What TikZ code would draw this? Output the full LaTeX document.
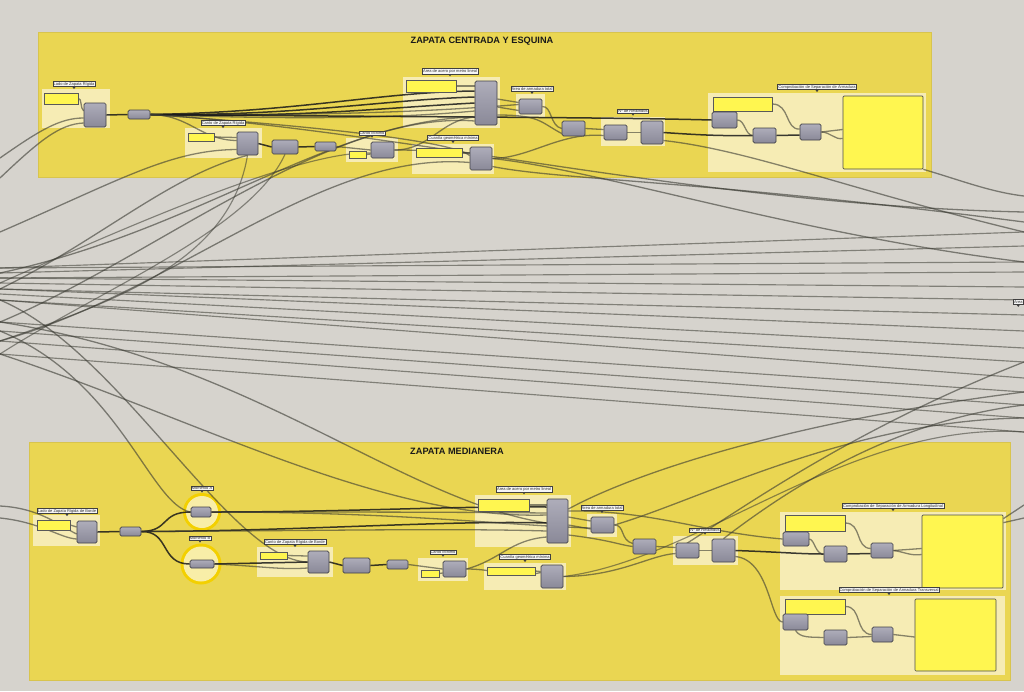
\documentclass[tikz,border=0pt]{standalone}
\usepackage{fontspec}
\setmainfont{Liberation Sans}
\usetikzlibrary{fit}
\definecolor{bgc}{HTML}{D6D3CD}
\definecolor{grpc}{HTML}{EAD652}
\definecolor{grpb}{HTML}{D8C44E}
\definecolor{panc}{HTML}{F6ECB4}
\definecolor{compt}{HTML}{AEADBA}
\definecolor{compb}{HTML}{8A8998}
\definecolor{compd}{HTML}{404048}
\definecolor{yelc}{HTML}{FFF650}
\definecolor{ringc}{HTML}{F3D000}
\definecolor{ringin}{HTML}{F8EEA8}
\definecolor{wirec}{HTML}{3A3A32}
\pgfdeclarelayer{back}
\pgfdeclarelayer{wirel}
\pgfsetlayers{back,wirel,main}
\tikzset{
  x=1pt,y=-1pt,
  grp/.style={fill=grpc,draw=grpb,line width=0.8pt,inner sep=0pt},
  pan/.style={fill=panc,inner sep=0pt},
  comp/.style={top color=compt,bottom color=compb,draw=compd,line width=0.7pt,rounded corners=1.5pt,inner sep=0pt},
  yel/.style={fill=yelc,draw=black!65,line width=0.6pt,inner sep=0pt},
  bigp/.style={fill=yelc,draw=black!70,line width=0.7pt,inner sep=0pt,rounded corners=1pt},
  lbl/.style={fill=white!93!gray,draw=black!75,line width=0.4pt,inner sep=0.8pt,font=\fontsize{4}{4.5}\selectfont,text=black!80},
  lblpt/.style={fill=black!75},
  gtitle/.style={font=\fontsize{9.2}{10}\selectfont\bfseries,text=black!90},
  wire/.style={draw=wirec,line width=1.3pt,opacity=0.6},
  dwire/.style={draw=black!90,line width=1.5pt,opacity=0.85},
  lwire/.style={draw=wirec,line width=1.15pt,opacity=0.55}
}
\newcommand\bx[6]{\node[#2,fit={(#3,#4) (#5,#6)}] (#1) {};}
\newcommand\lbl[4]{\node[lbl] (#1) at (#2,#3) {#4};
  \fill[lblpt] (#1.south) +(-1.6,0) -- +(1.6,0) -- +(0,2.2) -- cycle;}
\begin{document}
\begin{tikzpicture}
\useasboundingbox (0,0) rectangle (1024,691);

% ---------- edge coordinates ----------
\coordinate (L1) at (0,158); \coordinate (L2) at (0,178); \coordinate (L4) at (0,232);
\coordinate (Fa) at (0,268); \coordinate (Fb) at (0,273); \coordinate (Fc) at (0,278);
\coordinate (Fd) at (0,283); \coordinate (Fe) at (0,289); \coordinate (Ff) at (0,294);
\coordinate (Fg) at (0,300); \coordinate (Fh) at (0,322); \coordinate (Fi) at (0,331);
\coordinate (Fj) at (0,341); \coordinate (Fk) at (0,354);
\coordinate (L15) at (0,506); \coordinate (L16) at (0,518);
\coordinate (R1) at (1024,196); \coordinate (R2) at (1024,212); \coordinate (R3) at (1024,232);
\coordinate (R4) at (1024,246); \coordinate (R5) at (1024,262); \coordinate (R6) at (1024,272);
\coordinate (R7) at (1024,287); \coordinate (R8) at (1024,300); \coordinate (R9) at (1024,315);
\coordinate (R10) at (1024,331); \coordinate (R11) at (1024,348); \coordinate (R12) at (1024,362);
\coordinate (R13) at (1024,378); \coordinate (R14) at (1024,392); \coordinate (R15) at (1024,405);
\coordinate (R16) at (1024,418); \coordinate (R17) at (1024,432); \coordinate (R18) at (1024,505);
\coordinate (R19) at (1024,518); \coordinate (R20) at (1024,222);

\begin{pgfonlayer}{back}
\fill[bgc] (0,0) rectangle (1024,691);
% ---------- groups ----------
\bx{gtop}{grp}{38}{32}{931}{177}
\bx{gbot}{grp}{29}{442}{1010}{680}
% ---------- panels top ----------
\bx{tA}{pan}{42}{89}{110}{128}
\bx{tB}{pan}{185}{128}{262}{158}
\bx{tC}{pan}{346}{138}{398}{162}
\bx{tD}{pan}{403}{77}{500}{128}
\bx{tE}{pan}{516}{94}{545}{117}
\bx{tF}{pan}{412}{144}{494}{174}
\bx{tG}{pan}{601}{117}{665}{146}
\bx{tH}{pan}{708}{93}{926}{172}
% ---------- panels bottom ----------
\bx{bA}{pan}{33}{515}{100}{546}
\bx{bB}{pan}{257}{547}{333}{577}
\bx{bC}{pan}{418}{558}{468}{581}
\bx{bD}{pan}{475}{495}{571}{547}
\bx{bE}{pan}{587}{514}{617}{537}
\bx{bF}{pan}{484}{563}{566}{590}
\bx{bG}{pan}{673}{536}{738}{565}
\bx{bH}{pan}{780}{512}{1006}{590}
\bx{bI}{pan}{780}{596}{1005}{675}
\node[circle,fill=ringc,minimum size=38pt,inner sep=0pt] (mAr) at (202,512) {};
\node[circle,fill=ringin,minimum size=32pt,inner sep=0pt] (mAi) at (202,512) {};
\node[circle,fill=ringc,minimum size=41pt,inner sep=0pt] (mBr) at (201,564) {};
\node[circle,fill=ringin,minimum size=35pt,inner sep=0pt] (mBi) at (201,564) {};
\end{pgfonlayer}
\node[gtitle] (ttop) at (482,41) {ZAPATA CENTRADA Y ESQUINA};
\node[gtitle] (tbot) at (457,451) {ZAPATA MEDIANERA};

% ---------- components ----------
\bx{tAy}{yel}{44}{93}{78}{104}
\bx{tAc}{comp}{84}{103}{106}{127}
\bx{t1}{comp}{128}{110}{150}{119}
\bx{tBy}{yel}{188}{133}{214}{141}
\bx{tBc}{comp}{237}{132}{258}{155}
\bx{t2}{comp}{272}{140}{298}{154}
\bx{t3}{comp}{315}{142}{336}{151}
\bx{tCy}{yel}{349}{151}{366}{158}
\bx{tCc}{comp}{371}{142}{394}{158}
\bx{tDy}{yel}{406}{80}{456}{92}
\bx{tDc}{comp}{475}{81}{497}{125}
\bx{tEc}{comp}{519}{99}{542}{114}
\bx{tFy}{yel}{416}{148}{462}{157}
\bx{tFc}{comp}{470}{147}{492}{170}
\bx{t4}{comp}{562}{121}{585}{136}
\bx{tGa}{comp}{604}{125}{627}{140}
\bx{tGb}{comp}{641}{121}{663}{144}
\bx{tHy}{yel}{713}{97}{772}{111}
\bx{tHa}{comp}{712}{112}{737}{128}
\bx{tHb}{comp}{753}{128}{776}{143}
\bx{tHc}{comp}{800}{124}{821}{140}
\bx{tHp}{bigp}{843}{96}{923}{169}
\bx{bAy}{yel}{37}{520}{70}{530}
\bx{bAc}{comp}{77}{521}{97}{543}
\bx{b1}{comp}{120}{527}{141}{536}
\bx{bMA}{comp}{191}{507}{211}{517}
\bx{bMB}{comp}{190}{560}{214}{568}
\bx{bBy}{yel}{260}{552}{287}{559}
\bx{bBc}{comp}{308}{551}{329}{573}
\bx{b2}{comp}{343}{558}{370}{573}
\bx{b3}{comp}{387}{560}{408}{569}
\bx{bCy}{yel}{421}{570}{439}{577}
\bx{bCc}{comp}{443}{561}{466}{577}
\bx{bDy}{yel}{478}{499}{529}{511}
\bx{bDc}{comp}{547}{499}{568}{543}
\bx{bEc}{comp}{591}{517}{614}{533}
\bx{bFy}{yel}{487}{567}{535}{575}
\bx{bFc}{comp}{541}{565}{563}{588}
\bx{b4}{comp}{633}{539}{656}{554}
\bx{bGa}{comp}{676}{543}{699}{558}
\bx{bGb}{comp}{712}{539}{735}{562}
\bx{bHy}{yel}{785}{515}{845}{531}
\bx{bHa}{comp}{783}{532}{809}{546}
\bx{bHb}{comp}{824}{546}{847}{562}
\bx{bHc}{comp}{871}{543}{893}{558}
\bx{bHp}{bigp}{922}{515}{1003}{588}
\bx{bIy}{yel}{785}{599}{845}{614}
\bx{bIa}{comp}{783}{614}{808}{630}
\bx{bIb}{comp}{824}{630}{847}{645}
\bx{bIc}{comp}{872}{627}{893}{642}
\bx{bIp}{bigp}{915}{599}{996}{671}

% ---------- wires ----------
\begin{pgfonlayer}{wirel}
\foreach \a/\b in {Fa/R3,Fb/R4,Fc/R6,Fd/R8,Fe/R9,Ff/R11,Fg/R13,Fh/R14,Fi/R15,Fj/R16,Fk/R17,Fa/R5,Fc/R7,Fe/R10,Fg/R12}
  \draw[lwire] (\a) -- (\b);
\draw[wire] (L1) .. controls (40,130) and (60,118) .. ([yshift=-3pt]tAc.west);
\draw[wire] (L2) .. controls (40,140) and (60,124) .. ([yshift=-8pt]tAc.west);
\draw[wire] (tAy.east) .. controls (82,98) and (80,108) .. ([yshift=4pt]tAc.west);
\draw[dwire] (tAc.east) -- (t1.west);
\draw[dwire] (t1.east) .. controls (300,112) and (380,92) .. ([yshift=12pt]tDc.west);
\draw[dwire] (t1.east) .. controls (300,116) and (380,100) .. ([yshift=6pt]tDc.west);
\draw[dwire] (t1.east) .. controls (300,118) and (380,108) .. ([yshift=0pt]tDc.west);
\draw[wire] (t1.east) .. controls (300,120) and (400,118) .. ([yshift=-8pt]tDc.west);
\draw[wire] (t1.east) .. controls (350,116) and (450,110) .. ([yshift=2pt]tEc.west);
\draw[dwire] (t1.east) .. controls (400,117) and (600,117) .. (tHa.west);
\draw[wire] (t1.east) .. controls (190,115) and (200,140) .. ([yshift=3pt]tBc.west);
\draw[wire] (t1.east) .. controls (400,130) and (700,205) .. (R2);
\draw[wire] (t1.east) .. controls (300,125) and (450,140) .. ([yshift=3pt]tFc.west);
\draw[wire] (L4) .. controls (120,180) and (170,150) .. ([yshift=-6pt]tBc.west);
\draw[wire] (Fe) .. controls (100,240) and (170,175) .. (tBc.south);
\draw[wire] (Fj) .. controls (180,290) and (320,150) .. ([yshift=-4pt]tFc.west);
\draw[wire] (Fb) .. controls (200,230) and (330,120) .. ([yshift=-14pt]tDc.west);
\draw[wire] (Fh) .. controls (150,260) and (330,110) .. ([yshift=-18pt]tDc.west);
\draw[lwire] (Fd) .. controls (120,230) and (300,150) .. ([yshift=-3pt]tCc.west);
\draw[wire] (tBy.east) -- ([yshift=6pt]tBc.west);
\draw[dwire] (tBc.east) -- (t2.west);
\draw[dwire] (t2.east) -- (t3.west);
\draw[wire] (t3.east) -- (tCc.west);
\draw[wire] (tCy.east) -- ([yshift=-4pt]tCc.west);
\draw[wire] (tCc.east) .. controls (430,150) and (440,152) .. ([yshift=5pt]tFc.west);
\draw[wire] (tCc.east) .. controls (430,150) and (440,120) .. ([yshift=-14pt]tDc.west);
\draw[wire] (tDy.east) -- ([yshift=17pt]tDc.west);
\draw[wire] (tFy.east) -- ([yshift=6pt]tFc.west);
\draw[wire] ([yshift=4pt]tDc.east) -- ([yshift=4pt]tEc.west);
\draw[wire] ([yshift=-4pt]tDc.east) -- ([yshift=-4pt]tEc.west);
\draw[wire] ([yshift=-12pt]tDc.east) .. controls (540,115) and (540,122) .. ([yshift=-5pt]t4.west);
\draw[wire] (tEc.east) .. controls (552,106) and (550,126) .. (t4.west);
\draw[wire] (tFc.east) .. controls (530,158) and (560,132) .. ([yshift=-3pt]tGa.west);
\draw[wire] (tFc.east) .. controls (600,170) and (800,235) .. (R5);
\draw[wire] ([yshift=-8pt]tFc.east) .. controls (560,180) and (700,180) .. (R20);
\draw[wire] (t4.east) -- ([yshift=3pt]tGa.west);
\draw[wire] (tGa.east) -- (tGb.west);
\draw[dwire] (tGb.east) .. controls (700,135) and (720,136) .. (tHb.west);
\draw[wire] ([yshift=-8pt]tGb.east) .. controls (750,150) and (850,190) .. (R3);
\draw[wire] (tHy.east) .. controls (790,104) and (785,130) .. ([yshift=3pt]tHc.west);
\draw[wire] (tHa.east) .. controls (745,120) and (745,135) .. (tHb.west);
\draw[dwire] (tHb.east) -- ([yshift=-3pt]tHc.west);
\draw[wire] (tHc.east) -- ([yshift=3pt]tHp.west);
\draw[wire] (tHc.east) .. controls (830,132) and (835,140) .. ([yshift=-6pt]tHp.west);
\draw[wire] (tHp.south east) .. controls (960,180) and (990,192) .. (R1);
\draw[wire] (Fi) .. controls (120,380) and (150,505) .. (bMA.west);
\draw[wire] (Fk) .. controls (200,420) and (380,520) .. ([yshift=6pt]bDc.west);
\draw[wire] (Fh) .. controls (250,360) and (400,500) .. ([yshift=-2pt]bDc.west);
\draw[wire] (Fg) .. controls (120,350) and (230,560) .. (bBc.west);
\draw[lwire] (tBc.south) .. controls (230,260) and (120,300) .. (Fj);
\draw[lwire] (t2.south) .. controls (250,230) and (100,290) .. (Fk);
\draw[wire] (L15) .. controls (40,508) and (60,526) .. ([yshift=-2pt]bAc.west);
\draw[wire] (L16) .. controls (40,522) and (60,538) .. ([yshift=-7pt]bAc.west);
\draw[wire] (bAy.east) -- ([yshift=5pt]bAc.west);
\draw[dwire] (bAc.east) -- (b1.west);
\draw[dwire] (b1.east) .. controls (170,531) and (160,512) .. (bMA.west);
\draw[dwire] (b1.east) .. controls (170,531) and (160,564) .. (bMB.west);
\draw[dwire] (b1.east) .. controls (300,531) and (450,520) .. ([yshift=-2pt]bDc.west);
\draw[wire] (b1.east) .. controls (300,531) and (450,528) .. ([yshift=-10pt]bDc.west);
\draw[dwire] (bMA.east) .. controls (350,512) and (450,506) .. ([yshift=14pt]bDc.west);
\draw[wire] (bMA.east) .. controls (350,512) and (450,512) .. ([yshift=8pt]bDc.west);
\draw[wire] (bMA.east) .. controls (400,512) and (500,525) .. ([yshift=-3pt]bEc.west);
\draw[dwire] (bMB.east) -- (bBc.west);
\draw[wire] (bMB.east) .. controls (260,566) and (280,570) .. ([yshift=-6pt]bBc.west);
\draw[wire] (bBy.east) -- ([yshift=6pt]bBc.west);
\draw[dwire] (bBc.east) -- (b2.west);
\draw[dwire] (b2.east) -- (b3.west);
\draw[wire] (b3.east) -- (bCc.west);
\draw[wire] (bCy.east) -- ([yshift=-4pt]bCc.west);
\draw[wire] (bCc.east) .. controls (500,569) and (510,580) .. ([yshift=4pt]bFc.west);
\draw[wire] (bCc.east) .. controls (500,560) and (510,540) .. ([yshift=-16pt]bDc.west);
\draw[wire] (bDy.east) -- ([yshift=16pt]bDc.west);
\draw[wire] (bFy.east) -- ([yshift=5pt]bFc.west);
\draw[wire] ([yshift=4pt]bDc.east) -- ([yshift=4pt]bEc.west);
\draw[wire] ([yshift=-4pt]bDc.east) -- ([yshift=-4pt]bEc.west);
\draw[wire] ([yshift=-14pt]bDc.east) .. controls (610,540) and (620,545) .. (b4.west);
\draw[wire] (bEc.east) .. controls (625,525) and (620,540) .. ([yshift=3pt]b4.west);
\draw[wire] (bFc.east) .. controls (620,576) and (650,555) .. ([yshift=-3pt]bGa.west);
\draw[wire] (b4.east) -- ([yshift=3pt]bGa.west);
\draw[wire] (bGa.east) -- (bGb.west);
\draw[dwire] (bGb.east) .. controls (780,552) and (800,554) .. (bHb.west);
\draw[wire] ([yshift=-6pt]bGb.east) .. controls (770,560) and (770,622) .. (bIa.west);
\draw[wire] ([yshift=10pt]bDc.east) .. controls (650,510) and (700,532) .. (bHa.west);
\draw[wire] (bEc.east) .. controls (700,500) and (850,420) .. (R16);
\draw[wire] ([yshift=12pt]bDc.east) .. controls (640,470) and (800,420) .. (R14);
\draw[wire] (bGa.west) .. controls (740,510) and (850,430) .. (R12);
\draw[wire] (bGb.north) .. controls (800,480) and (900,420) .. (R15);
\draw[lwire] (bFc.east) .. controls (700,560) and (850,420) .. (R17);
\draw[wire] (bHy.east) .. controls (862,523) and (855,548) .. ([yshift=2pt]bHc.west);
\draw[wire] (bHa.east) .. controls (815,540) and (815,554) .. (bHb.west);
\draw[dwire] (bHb.east) -- ([yshift=-3pt]bHc.west);
\draw[wire] (bHc.east) -- ([yshift=3pt]bHp.west);
\draw[wire] (bHc.east) .. controls (905,552) and (910,556) .. ([yshift=-3pt]bHp.west);
\draw[wire] ([yshift=-4pt]bHp.north east) -- (R18);
\draw[wire] ([yshift=-8pt]bHp.north east) -- (R19);
\draw[wire] (bIy.east) .. controls (862,606) and (855,634) .. (bIc.west);
\draw[wire] (bIa.south) .. controls (800,638) and (810,637) .. (bIb.west);
\draw[wire] (bIb.east) -- ([yshift=-2pt]bIc.west);
\draw[wire] (bIc.east) -- ([yshift=-2pt]bIp.west);
\end{pgfonlayer}

% ---------- labels ----------
\lbl{lA}{74}{84}{Lado de Zapata Rígida}
\lbl{lB}{223}{123}{Canto de Zapata Rígida}
\lbl{lC}{372}{133}{Canto Mínimo}
\lbl{lD}{450}{71}{Área de acero por metro lineal}
\lbl{lE}{532}{89}{Área de armadura total}
\lbl{lF}{453}{138}{Cuantía geométrica mínima}
\lbl{lG}{633}{111}{Nº de Redondos}
\lbl{lH}{817}{87}{Comprobación de Separación de Armadura}
\lbl{mA}{67}{511}{Lado de Zapata Rígida de Borde}
\lbl{mMA}{202}{488}{Momento A}
\lbl{mMB}{200}{538}{Momento B}
\lbl{mB}{295}{542}{Canto de Zapata Rígida de Borde}
\lbl{mC}{443}{552}{Canto Mínimo}
\lbl{mD}{524}{489}{Área de acero por metro lineal}
\lbl{mE}{602}{508}{Área de armadura total}
\lbl{mF}{525}{557}{Cuantía geométrica mínima}
\lbl{mG}{705}{530}{Nº de Redondos}
\lbl{mH}{893}{506}{Comprobación de Separación de Armadura Longitudinal}
\lbl{mI}{889}{590}{Comprobación de Separación de Armadura Transversal}
\node[lbl,anchor=east] (rX) at (1023.5,302) {Área};
\fill[lblpt] (rX.south) +(-1.6,0) -- +(1.6,0) -- +(0,2.2) -- cycle;
\end{tikzpicture}
\end{document}
